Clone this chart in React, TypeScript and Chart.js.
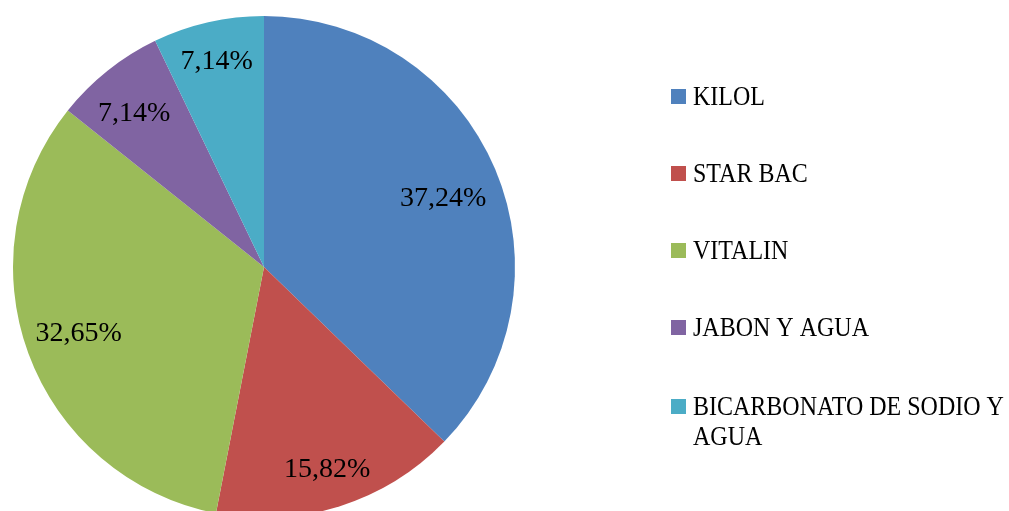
import React, { useEffect, useRef } from "react";
import { Chart, registerables } from "chart.js";

Chart.register(...registerables);

const categories = ["KILOL", "STAR BAC", "VITALIN", "JABON Y AGUA", "BICARBONATO DE SODIO Y AGUA"];
const values = [37.24, 15.82, 32.65, 7.14, 7.14];
const colors = ["#4F81BD", "#C0504D", "#9BBB59", "#8064A2", "#4BACC6"];
// label placement: fraction of radius and small angular tweak (degrees)
const labelRadius = [0.768, 0.838, 0.781, 0.806, 0.849];
const labelAngleTweak = [1.4, 0, 1.1, -1.4, 0];

const W = 1009;
const H = 530;
const FONT = '"Liberation Serif", "Times New Roman", serif';

function fmt(v: number) {
  return v.toFixed(2).replace(".", ",") + "%";
}

const labelPlugin = {
  id: "labelsAndLegend",
  afterDatasetsDraw(chart: any) {
    const ctx = chart.ctx;
    const meta = chart.getDatasetMeta(0);
    ctx.save();
    ctx.font = "28px " + FONT;
    ctx.fillStyle = "#000";
    ctx.textAlign = "center";
    ctx.textBaseline = "alphabetic";
    meta.data.forEach((arc: any, i: number) => {
      const p = arc.getProps(["x", "y", "startAngle", "endAngle", "outerRadius"], true);
      const mid = (p.startAngle + p.endAngle) / 2 + (labelAngleTweak[i] * Math.PI) / 180;
      const r = p.outerRadius * labelRadius[i];
      ctx.fillText(fmt(values[i]), p.x + Math.cos(mid) * r, p.y + Math.sin(mid) * r + 9.5);
    });
    ctx.restore();

    // legend
    ctx.save();
    ctx.font = "27px " + FONT;
    ctx.textAlign = "left";
    ctx.textBaseline = "alphabetic";
    const sx = 0.889;
    const x0 = 671;
    const tx = 693;
    const maxW = (W - tx - 2) / sx;
    const baselines = [105, 182, 259, 336, 415];
    const lineH = 30;
    categories.forEach((c, i) => {
      ctx.fillStyle = colors[i];
      ctx.fillRect(x0, baselines[i] - 16, 15, 15);
      ctx.fillStyle = "#000";
      const words = c.split(" ");
      const lines: string[] = [];
      let cur = "";
      words.forEach((w) => {
        const t = cur ? cur + " " + w : w;
        if (ctx.measureText(t).width > maxW && cur) {
          lines.push(cur);
          cur = w;
        } else cur = t;
      });
      if (cur) lines.push(cur);
      lines.forEach((l, k) => {
        ctx.save();
        ctx.translate(tx, baselines[i] + k * lineH);
        ctx.scale(sx, 1);
        ctx.fillText(l, 0, 0);
        ctx.restore();
      });
    });
    ctx.restore();
  },
};

export default function App() {
  const ref = useRef<HTMLCanvasElement>(null);
  useEffect(() => {
    if (!ref.current) return;
    const chart = new Chart(ref.current, {
      type: "pie",
      data: {
        labels: categories,
        datasets: [{ data: values, backgroundColor: colors, borderWidth: 0 }],
      },
      options: {
        responsive: false,
        animation: false,
        layout: { padding: { left: 13, top: 16, right: W - 515, bottom: H - 518 } },
        plugins: { legend: { display: false }, tooltip: { enabled: false } },
      },
      plugins: [labelPlugin],
    });
    return () => chart.destroy();
  }, []);
  return (
    <div style={{ position: "fixed", left: 0, top: 0, width: W, height: 511, overflow: "hidden", background: "#fff" }}>
      <canvas ref={ref} width={W} height={H} style={{ display: "block" }} />
    </div>
  );
}
